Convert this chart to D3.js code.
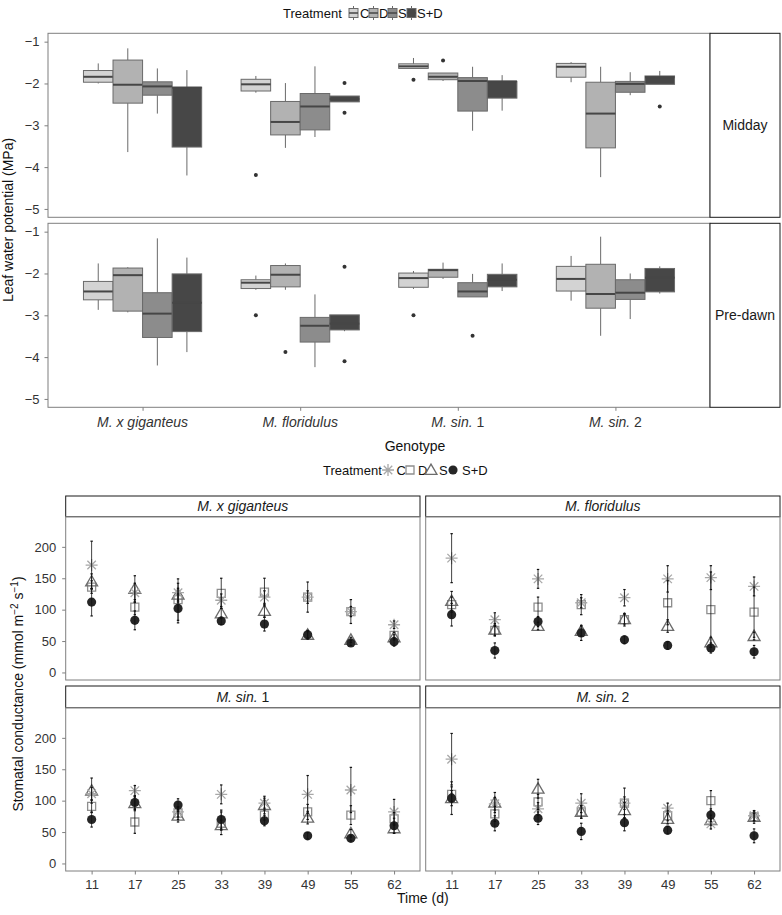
<!DOCTYPE html>
<html>
<head>
<meta charset="utf-8">
<script src="https://cdn.jsdelivr.net/npm/d3@7"></script>
<style>
  html, body { margin: 0; padding: 0; background: #fff; }
  svg { display: block; font-family: "Liberation Sans", Arial, Helvetica, sans-serif; }
</style>
</head>
<body>
<svg id="chart" width="782" height="915"></svg>
<script>
// ---------------- DATA ----------------
const genotypes = ["M. x giganteus", "M. floridulus", "M. sin. 1", "M. sin. 2"];
const treatments = ["C", "D", "S", "S+D"];
const yTicksTop = [-1, -2, -3, -4, -5];

// Boxplot stats per genotype: [lowerWhisker, Q1, median, Q3, upperWhisker]
const middayC  = [[-2.00,-1.97,-1.84,-1.69,-1.52],[-2.22,-2.18,-2.02,-1.90,-1.82],[-1.64,-1.64,-1.59,-1.53,-1.39],[-1.97,-1.85,-1.60,-1.52,-1.49]];
const middayD  = [[-3.64,-2.47,-2.03,-1.44,-1.16],[-3.54,-3.23,-2.92,-2.43,-1.99],[-1.94,-1.91,-1.84,-1.75,-1.75],[-4.24,-3.54,-2.72,-1.97,-1.60]];
const middayS  = [[-2.72,-2.28,-2.07,-1.96,-1.64],[-3.28,-3.11,-2.55,-2.24,-1.59],[-3.13,-2.66,-1.94,-1.86,-1.60],[-2.28,-2.21,-2.01,-1.95,-1.73]];
const middaySD = [[-4.20,-3.52,-2.10,-2.09,-1.68],[-2.44,-2.44,-2.37,-2.30,-2.30],[-2.65,-2.35,-1.95,-1.95,-1.80],[-2.02,-2.02,-1.85,-1.82,-1.70]];
// Outliers: [genotypeIndex, value]
const middayOutC  = [[1,-4.19],[2,-1.91]];
const middayOutD  = [[2,-1.45]];
const middayOutS  = [];
const middayOutSD = [[1,-1.99],[1,-2.70],[3,-2.55]];

const predawnC  = [[-2.87,-2.63,-2.43,-2.19,-1.76],[-2.39,-2.36,-2.22,-2.15,-2.05],[-2.37,-2.33,-2.11,-1.99,-1.94],[-2.65,-2.42,-2.13,-1.83,-1.58]];
const predawnD  = [[-2.93,-2.90,-2.04,-1.87,-1.85],[-2.39,-2.32,-2.03,-1.81,-1.76],[-2.13,-2.09,-1.92,-1.90,-1.74],[-3.49,-2.83,-2.49,-1.78,-1.12]];
const predawnS  = [[-4.20,-3.53,-2.96,-2.46,-1.16],[-4.24,-3.64,-3.25,-3.05,-2.50],[-2.56,-2.56,-2.43,-2.22,-2.01],[-3.09,-2.62,-2.46,-2.15,-2.00]];
const predawnSD = [[-3.88,-3.39,-2.70,-2.01,-1.62],[-3.38,-3.35,-3.20,-2.99,-2.99],[-2.42,-2.32,-2.15,-2.02,-1.76],[-2.48,-2.44,-2.10,-1.88,-1.83]];
const predawnOutC  = [[1,-3.00],[2,-3.00]];
const predawnOutD  = [[1,-3.88]];
const predawnOutS  = [[2,-3.49]];
const predawnOutSD = [[1,-1.84],[1,-4.10]];

// Stomatal conductance
const times = ["11", "17", "25", "33", "39", "49", "55", "62"];
const yTicksBottom = [0, 50, 100, 150, 200];

const gigC  = [171,127,127,115,120,120, 97, 76];
const gigD  = [136,104,116,126,128,120, 97, 59];
const gigS  = [145,133,124, 94, 98, 60, 52, 56];
const gigSD = [112, 83,102, 82, 77, 60, 47, 49];
const gigCerr  = [38,15,15,10,10,10, 8, 6];
const gigDerr  = [10,12,33,24,22,24,19, 5];
const gigSerr  = [12,21,10, 8,10, 5, 4, 4];
const gigSDerr = [22,15,23, 6,11, 7, 4, 7];

const floC  = [182, 84,149,111,119,149,151,137];
const floD  = [108, 67,104,108, 84,111,100, 96];
const floS  = [114, 68, 74, 66, 85, 74, 48, 58];
const floSD = [ 92, 35, 81, 63, 52, 43, 39, 33];
const floCerr  = [39,11,15, 8,13,21,19,15];
const floDerr  = [12, 8,16,16,10,35,60,40];
const floSerr  = [15,10, 6, 8, 8,10, 8, 6];
const floSDerr = [18,12, 8,12, 6, 6, 8,10];

const sin1C  = [111,116, 82,110, 96,110,117, 82];
const sin1D  = [ 91, 66, 80, 64, 77, 82, 77, 71];
const sin1S  = [116, 96, 76, 61, 93, 73, 48, 56];
const sin1SD = [ 70, 97, 93, 70, 68, 44, 40, 60];
const sin1Cerr  = [10, 8, 8,15, 8,30,36,20];
const sin1Derr  = [10,18,10,18, 8,12,15,10];
const sin1Serr  = [20,10,10, 8,14,10, 6, 8];
const sin1SDerr = [12,10,10,15, 8, 5, 4,12];

const sin2C  = [166, 95, 87, 96, 96, 88, 63, 76];
const sin2D  = [110, 79, 98, 82, 96, 76,100, 74];
const sin2S  = [104, 97,119, 82, 85, 71, 69, 74];
const sin2SD = [104, 64, 72, 51, 65, 53, 77, 44];
const sin2Cerr  = [41,10,10,15,10, 8, 8, 8];
const sin2Derr  = [12,12,12,10,24, 8,16, 6];
const sin2Serr  = [12,16,15,10,12, 8, 8,10];
const sin2SDerr = [26,12,10,13,13, 6,10,11];

// ---------------- STYLE ----------------
const boxFill = {"C":"#d3d3d3", "D":"#b2b2b2", "S":"#8c8c8c", "S+D":"#474747"};
const boxStroke = "#6a6a6a";
const medianStroke = "#464646";
const panelStroke = "#7f7f7f";
const stripStroke = "#1a1a1a";
const tickText = "#333";
const ptColor = {"C":"#a8a8a8", "D":"#8e8e8e", "S":"#6c6c6c", "S+D":"#262626"};

const svg = d3.select("#chart");

// Helper: genotype label with italic part
function genoLabel(sel, g) {
  const m = g.match(/^(M\. sin\.)\s(\d)$/);
  if (m) {
    sel.append("tspan").attr("font-style", "italic").text(m[1]);
    sel.append("tspan").text(" " + m[2]);
  } else {
    sel.append("tspan").attr("font-style", "italic").text(g);
  }
}

// ---------------- TOP: BOXPLOTS ----------------
const topX0 = 48, topX1 = 710, stripX1 = 780;
const xTop = d3.scalePoint().domain(genotypes).range([topX0, topX1]).padding(0.6);
const step = xTop.step();
const boxW = step * 0.75 / 4;

const topRows = [
  {name: "Midday", y0: 33.3, y1: 217.3,
   stats: {"C": middayC, "D": middayD, "S": middayS, "S+D": middaySD},
   outs: {"C": middayOutC, "D": middayOutD, "S": middayOutS, "S+D": middayOutSD}},
  {name: "Pre-dawn", y0: 223.3, y1: 407.3,
   stats: {"C": predawnC, "D": predawnD, "S": predawnS, "S+D": predawnSD},
   outs: {"C": predawnOutC, "D": predawnOutD, "S": predawnOutS, "S+D": predawnOutSD}}
];

topRows.forEach((row, ri) => {
  const y = d3.scaleLinear().domain([-5.2, -0.8]).range([row.y1, row.y0]);
  const g = svg.append("g");
  g.append("rect").attr("x", topX0).attr("y", row.y0).attr("width", topX1 - topX0).attr("height", row.y1 - row.y0)
    .attr("fill", "#fff");

  treatments.forEach((t, ti) => {
    const stats = row.stats[t];
    stats.forEach((s, gi) => {
      const cx = xTop(genotypes[gi]) + (ti - 1.5) * boxW;
      const [lo, q1, med, q3, hi] = s;
      g.append("line").attr("x1", cx).attr("x2", cx).attr("y1", y(hi)).attr("y2", y(q3))
        .attr("stroke", boxStroke).attr("stroke-width", 1);
      g.append("line").attr("x1", cx).attr("x2", cx).attr("y1", y(q1)).attr("y2", y(lo))
        .attr("stroke", boxStroke).attr("stroke-width", 1);
      g.append("rect").attr("x", cx - boxW / 2).attr("y", y(q3)).attr("width", boxW)
        .attr("height", Math.max(0.5, y(q1) - y(q3)))
        .attr("fill", boxFill[t]).attr("stroke", boxStroke).attr("stroke-width", 1);
      g.append("line").attr("x1", cx - boxW / 2).attr("x2", cx + boxW / 2).attr("y1", y(med)).attr("y2", y(med))
        .attr("stroke", medianStroke).attr("stroke-width", 2);
    });
    row.outs[t].forEach(o => {
      const cx = xTop(genotypes[o[0]]) + (ti - 1.5) * boxW;
      g.append("circle").attr("cx", cx).attr("cy", y(o[1])).attr("r", 2).attr("fill", "#333");
    });
  });

  g.append("rect").attr("x", topX0).attr("y", row.y0).attr("width", topX1 - topX0).attr("height", row.y1 - row.y0)
    .attr("fill", "none").attr("stroke", panelStroke).attr("stroke-width", 1);
  g.append("rect").attr("x", topX1).attr("y", row.y0).attr("width", stripX1 - topX1).attr("height", row.y1 - row.y0)
    .attr("fill", "#fff").attr("stroke", stripStroke).attr("stroke-width", 1);
  g.append("text").attr("x", (topX1 + stripX1) / 2).attr("y", (row.y0 + row.y1) / 2 + 5)
    .attr("text-anchor", "middle").attr("font-size", 14).attr("fill", "#1a1a1a").text(row.name);

  const ax = g.append("g").attr("transform", `translate(${topX0},0)`)
    .call(d3.axisLeft(y).tickValues(yTicksTop).tickSize(3.5).tickPadding(5).tickFormat(d3.format("")));
  ax.select(".domain").remove();
  ax.selectAll(".tick line").attr("stroke", panelStroke);
  ax.selectAll(".tick text").attr("font-size", 13).attr("fill", tickText).attr("font-family", null);

  if (ri === 1) {
    const xa = g.append("g").attr("transform", `translate(0,${row.y1})`)
      .call(d3.axisBottom(xTop).tickSize(3.5).tickPadding(6).tickFormat(""));
    xa.select(".domain").remove();
    xa.selectAll(".tick line").attr("stroke", panelStroke);
    genotypes.forEach(gn => {
      const tx = svg.append("text").attr("x", xTop(gn)).attr("y", 426.5)
        .attr("text-anchor", "middle").attr("font-size", 14).attr("fill", tickText);
      genoLabel(tx, gn);
    });
  }
});

svg.append("text").attr("transform", "translate(13,220) rotate(-90)").attr("text-anchor", "middle")
  .attr("font-size", 14).attr("fill", "#111").text("Leaf water potential (MPa)");
svg.append("text").attr("x", 415).attr("y", 451).attr("text-anchor", "middle")
  .attr("font-size", 14).attr("fill", "#111").text("Genotype");

// top legend
(function () {
  const ly = 13;
  svg.append("text").attr("x", 283).attr("y", ly + 4.5).attr("font-size", 13).attr("fill", "#111").text("Treatment");
  const keyX = [349, 369, 388, 407];
  const labX = [360, 379, 398, 417];
  treatments.forEach((t, i) => {
    const kx = keyX[i] + 4.5;
    svg.append("line").attr("x1", kx).attr("x2", kx).attr("y1", ly - 7).attr("y2", ly + 7)
      .attr("stroke", boxStroke).attr("stroke-width", 1);
    svg.append("rect").attr("x", keyX[i]).attr("y", ly - 4.5).attr("width", 9).attr("height", 9)
      .attr("fill", boxFill[t]).attr("stroke", boxStroke).attr("stroke-width", 1);
    svg.append("line").attr("x1", keyX[i]).attr("x2", keyX[i] + 9).attr("y1", ly).attr("y2", ly)
      .attr("stroke", medianStroke).attr("stroke-width", 1.5);
    svg.append("text").attr("x", labX[i]).attr("y", ly + 4.5).attr("font-size", 13).attr("fill", "#111").text(t);
  });
})();

// ---------------- BOTTOM: STOMATAL CONDUCTANCE ----------------
const cols = [{x0: 65.7, x1: 420}, {x0: 425.7, x1: 780}];
const rows = [{s0: 496, s1: 516.7, p1: 680}, {s0: 686, s1: 707.7, p1: 871}];
const panels = [
  {name: genotypes[0], c: 0, r: 0, C: gigC, D: gigD, S: gigS, SD: gigSD, Ce: gigCerr, De: gigDerr, Se: gigSerr, SDe: gigSDerr},
  {name: genotypes[1], c: 1, r: 0, C: floC, D: floD, S: floS, SD: floSD, Ce: floCerr, De: floDerr, Se: floSerr, SDe: floSDerr},
  {name: genotypes[2], c: 0, r: 1, C: sin1C, D: sin1D, S: sin1S, SD: sin1SD, Ce: sin1Cerr, De: sin1Derr, Se: sin1Serr, SDe: sin1SDerr},
  {name: genotypes[3], c: 1, r: 1, C: sin2C, D: sin2D, S: sin2S, SD: sin2SD, Ce: sin2Cerr, De: sin2Derr, Se: sin2Serr, SDe: sin2SDerr}
];

function asteriskPath(r) {
  const d = r * Math.SQRT1_2;
  return `M${-r},0L${r},0M0,${-r}L0,${r}M${-d},${-d}L${d},${d}M${-d},${d}L${d},${-d}`;
}
const squareSym = d3.symbol().type(d3.symbolSquare).size(64)();
const triSym = d3.symbol().type(d3.symbolTriangle).size(62)();
const circSym = d3.symbol().type(d3.symbolCircle).size(66)();

function drawMarker(g, t, px, py) {
  if (t === "C") {
    g.append("path").attr("d", asteriskPath(6)).attr("transform", `translate(${px},${py})`)
      .attr("stroke", ptColor.C).attr("stroke-width", 1.3).attr("fill", "none");
  } else if (t === "D") {
    g.append("path").attr("d", squareSym).attr("transform", `translate(${px},${py})`)
      .attr("stroke", ptColor.D).attr("stroke-width", 1.3).attr("fill", "none");
  } else if (t === "S") {
    g.append("path").attr("d", triSym).attr("transform", `translate(${px},${py + 1})`)
      .attr("stroke", ptColor.S).attr("stroke-width", 1.3).attr("fill", "none");
  } else {
    g.append("path").attr("d", circSym).attr("transform", `translate(${px},${py})`)
      .attr("fill", ptColor["S+D"]);
  }
}

panels.forEach(p => {
  const col = cols[p.c], row = rows[p.r];
  const x = d3.scalePoint().domain(times).range([col.x0, col.x1]).padding(0.6);
  const y = d3.scaleLinear().domain([-12, 248]).range([row.p1, row.s1]);
  const g = svg.append("g");

  g.append("rect").attr("x", col.x0).attr("y", row.s0).attr("width", col.x1 - col.x0).attr("height", row.s1 - row.s0)
    .attr("fill", "#fff").attr("stroke", stripStroke).attr("stroke-width", 1);
  const st = g.append("text").attr("x", (col.x0 + col.x1) / 2).attr("y", (row.s0 + row.s1) / 2 + 5)
    .attr("text-anchor", "middle").attr("font-size", 14).attr("fill", "#1a1a1a");
  genoLabel(st, p.name);

  const series = [
    {t: "D", v: p.D, e: p.De},
    {t: "S", v: p.S, e: p.Se},
    {t: "C", v: p.C, e: p.Ce},
    {t: "S+D", v: p.SD, e: p.SDe}
  ];
  series.forEach(s => {
    s.v.forEach((v, i) => drawMarker(g, s.t, x(times[i]), y(v)));
  });
  series.forEach(s => {
    s.v.forEach((v, i) => {
      const px = x(times[i]);
      g.append("line").attr("x1", px).attr("x2", px).attr("y1", y(v + s.e[i])).attr("y2", y(v - s.e[i]))
        .attr("stroke", "#111").attr("stroke-width", 0.8);
      [v + s.e[i], v - s.e[i]].forEach(ev => {
        g.append("line").attr("x1", px - 1.2).attr("x2", px + 1.2).attr("y1", y(ev)).attr("y2", y(ev))
          .attr("stroke", "#111").attr("stroke-width", 1.2);
      });
    });
  });

  g.append("rect").attr("x", col.x0).attr("y", row.s1).attr("width", col.x1 - col.x0).attr("height", row.p1 - row.s1)
    .attr("fill", "none").attr("stroke", panelStroke).attr("stroke-width", 1);

  if (p.c === 0) {
    const ya = g.append("g").attr("transform", `translate(${col.x0},0)`)
      .call(d3.axisLeft(y).tickValues(yTicksBottom).tickSize(3.5).tickPadding(6));
    ya.select(".domain").remove();
    ya.selectAll(".tick line").attr("stroke", panelStroke);
    ya.selectAll(".tick text").attr("font-size", 13).attr("fill", tickText).attr("font-family", null);
  }
  if (p.r === 1) {
    const xa = g.append("g").attr("transform", `translate(0,${row.p1})`)
      .call(d3.axisBottom(x).tickSize(3.5).tickPadding(5));
    xa.select(".domain").remove();
    xa.selectAll(".tick line").attr("stroke", panelStroke);
    xa.selectAll(".tick text").attr("font-size", 13).attr("fill", tickText).attr("font-family", null);
  }
});

(function () {
  const t = svg.append("text").attr("transform", "translate(23,694) rotate(-90)").attr("text-anchor", "middle")
    .attr("font-size", 14).attr("fill", "#111");
  t.append("tspan").text("Stomatal conductance (mmol m");
  t.append("tspan").attr("font-size", 10).attr("dy", -5).text("−2");
  t.append("tspan").attr("dy", 5).text(" s");
  t.append("tspan").attr("font-size", 10).attr("dy", -5).text("−1");
  t.append("tspan").attr("dy", 5).text(")");
})();
svg.append("text").attr("x", 422.8).attr("y", 902.5).attr("text-anchor", "middle")
  .attr("font-size", 14).attr("fill", "#111").text("Time (d)");

// bottom legend
(function () {
  const ly = 470;
  svg.append("text").attr("x", 323).attr("y", ly + 4.5).attr("font-size", 13).attr("fill", "#111").text("Treatment");
  const keyX = [388, 410, 431, 453];
  const labX = [396.5, 418, 439, 462];
  treatments.forEach((t, i) => {
    drawMarker(svg, t, keyX[i], ly);
    svg.append("text").attr("x", labX[i]).attr("y", ly + 4.5).attr("font-size", 13).attr("fill", "#111").text(t);
  });
})();
</script>
</body>
</html>
